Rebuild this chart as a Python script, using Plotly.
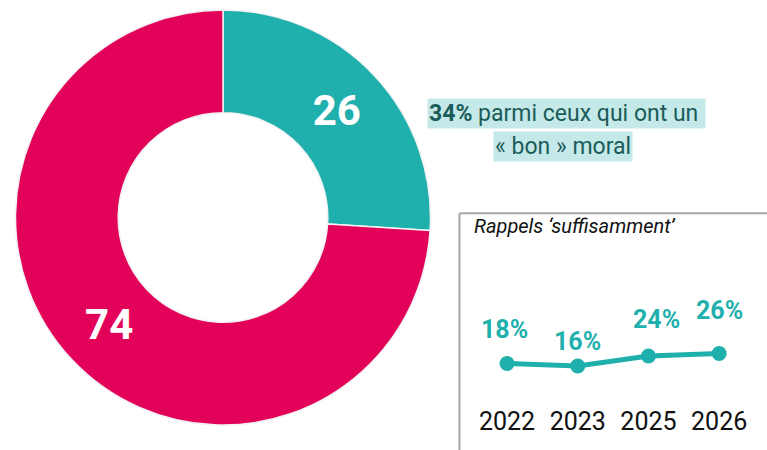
import plotly.graph_objects as go

# ---- data ----
pie_labels = ["Oui", "Non"]
pie_values = [26, 74]
years = ["2022", "2023", "2025", "2026"]
rappels = [18, 16, 24, 26]
rappel_labels = ["18%", "16%", "24%", "26%"]
note_line1 = "<b>34%</b> parmi ceux qui ont un "
note_line2 = "« bon » moral"
inset_title = "Rappels ‘suffisamment’"

TEAL = "#1FB0AE"
CRIMSON = "#E3025A"
W, H = 767, 450
FONT = "Roboto"

fig = go.Figure()

fig.add_trace(go.Pie(
    labels=pie_labels, values=pie_values, hole=0.505,
    sort=False, direction="clockwise", rotation=0,
    marker=dict(colors=[TEAL, CRIMSON], line=dict(color="#F2F2F2", width=1.5)),
    texttemplate="<b>%{value}</b>", textposition="inside",
    insidetextorientation="horizontal",
    textfont=dict(color="white", size=42, family=FONT),
    domain=dict(x=[15.5 / W, 430.5 / W], y=[(H - 425) / H, (H - 10) / H]),
    hoverinfo="label+value", showlegend=False,
))

fig.add_trace(go.Scatter(
    x=years, y=rappels, mode="lines+markers",
    line=dict(color=TEAL, width=5),
    marker=dict(color=TEAL, size=15),
    xaxis="x", yaxis="y", showlegend=False,
))

label_shift = [34, 25, 37, 43]
label_xshift = [-3, 0, 8, 0]
annotations = []
for i, (v, t, s, xs) in enumerate(zip(rappels, rappel_labels, label_shift, label_xshift)):
    annotations.append(dict(x=i, y=v, xref="x", yref="y", text="<b>" + t + "</b>",
                            showarrow=False, yshift=s, xshift=xs,
                            font=dict(color=TEAL, size=25, family=FONT)))

annotations += [
    dict(x=566 / W, y=(H - 113.5) / H, xref="paper", yref="paper",
         text=note_line1, showarrow=False, xanchor="center", yanchor="middle",
         bgcolor="#C5E9E8", borderpad=1,
         font=dict(color="#1A5C5A", size=23, family=FONT)),
    dict(x=562.5 / W, y=(H - 146) / H, xref="paper", yref="paper",
         text=note_line2, showarrow=False, xanchor="center", yanchor="middle",
         bgcolor="#C5E9E8", borderpad=1,
         font=dict(color="#1A5C5A", size=23, family=FONT)),
    dict(x=472 / W, y=(H - 226) / H, xref="paper", yref="paper",
         text="<i>" + inset_title + "</i>", showarrow=False,
         xanchor="left", yanchor="middle",
         font=dict(color="#111111", size=20, family=FONT)),
]

fig.update_layout(
    width=W, height=H, margin=dict(l=0, r=0, t=0, b=0),
    paper_bgcolor="white", plot_bgcolor="rgba(0,0,0,0)",
    xaxis=dict(domain=[471.7 / W, 754.5 / W], range=[-0.5, 3.5], type="category",
               showgrid=False, zeroline=False, showline=False, ticks="",
               tickfont=dict(size=25, color="#111111", family=FONT)),
    yaxis=dict(domain=[(H - 403.5) / H, (H - 311) / H], range=[-14, 60],
               showgrid=False, zeroline=False, showline=False, showticklabels=False),
    shapes=[
        dict(type="line", xref="paper", yref="paper", x0=459.5 / W, x1=1.0,
             y0=(H - 213.3) / H, y1=(H - 213.3) / H, line=dict(color="#A6A6A6", width=2)),
        dict(type="line", xref="paper", yref="paper", x0=459.5 / W, x1=459.5 / W,
             y0=0, y1=(H - 213.3) / H, line=dict(color="#A6A6A6", width=2)),
    ],
    annotations=annotations,
)

fig.write_html("out.html", config={"displayModeBar": False},
               post_script="document.body.style.margin='0';document.body.style.overflow='hidden';")
